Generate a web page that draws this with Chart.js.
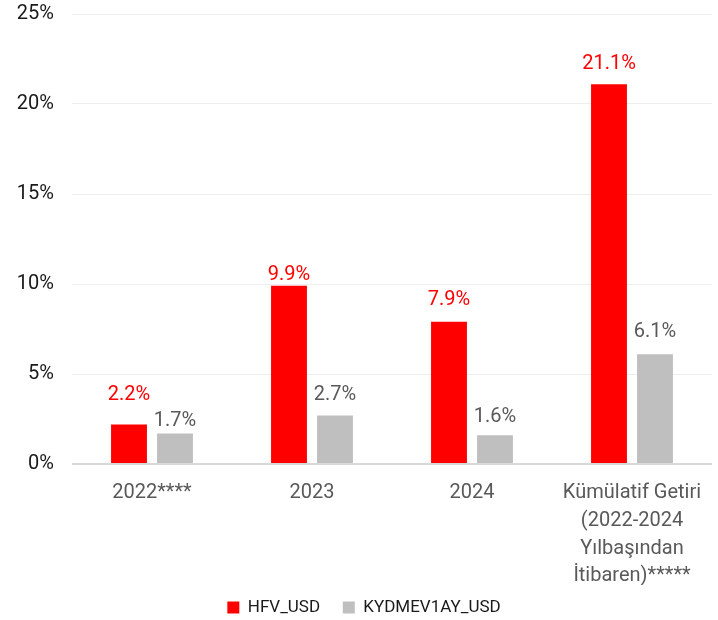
<!DOCTYPE html>
<html>
<head>
<meta charset="utf-8">
<script src="https://cdn.jsdelivr.net/npm/chart.js@4/dist/chart.umd.min.js"></script>
<style>
  html, body { margin: 0; padding: 0; background: #fff; }
  #wrap { width: 718px; height: 620px; }
</style>
</head>
<body>
<div id="wrap"><canvas id="c"></canvas></div>
<script>
const categories = [
  '2022****',
  '2023',
  '2024',
  ['Kümülatif Getiri', '(2022-2024', 'Yılbaşından', 'İtibaren)*****']
];
const hfvUsd = [2.2, 9.9, 7.9, 21.1];
const kydUsd = [1.7, 2.7, 1.6, 6.1];
const yTicks = [0, 5, 10, 15, 20, 25];

// gap between label bottom and bar top, as placed in the original
const labelGaps = [[22, 4, 15, 13], [5, 13, 11, 15]];

const barLabels = {
  id: 'barLabels',
  afterDatasetsDraw(chart) {
    const ctx = chart.ctx;
    ctx.save();
    ctx.font = '20px Roboto';
    ctx.textAlign = 'center';
    ctx.textBaseline = 'bottom';
    chart.data.datasets.forEach((ds, i) => {
      const meta = chart.getDatasetMeta(i);
      ctx.fillStyle = ds.labelColor;
      meta.data.forEach((bar, j) => {
        ctx.fillText(ds.data[j].toFixed(1) + '%', bar.x, bar.y - labelGaps[i][j] + 3);
      });
    });
    ctx.restore();
  }
};

new Chart(document.getElementById('c'), {
  type: 'bar',
  data: {
    labels: categories,
    datasets: [
      { label: 'HFV_USD', data: hfvUsd, backgroundColor: '#ff0000', labelColor: '#ff0000',
        barPercentage: 0.78, categoryPercentage: 0.575 },
      { label: 'KYDMEV1AY_USD', data: kydUsd, backgroundColor: '#bfbfbf', labelColor: '#595959',
        barPercentage: 0.78, categoryPercentage: 0.575 }
    ]
  },
  options: {
    responsive: true,
    maintainAspectRatio: false,
    animation: false,
    layout: { padding: { top: 14, left: 16, right: 6, bottom: 0 } },
    plugins: {
      tooltip: { enabled: false },
      legend: {
        position: 'bottom',
        maxHeight: 35,
        labels: {
          font: { family: 'Roboto', size: 17 },
          color: '#1a1a1a',
          boxWidth: 12,
          boxHeight: 12,
          padding: 14,
          generateLabels(chart) {
            const items = Chart.defaults.plugins.legend.labels.generateLabels(chart);
            items.forEach((it, i) => { if (i < items.length - 1) it.text += '\u2002'; });
            return items;
          }
        }
      }
    },
    scales: {
      x: {
        grid: { display: false },
        border: { display: false },
        ticks: {
          font: { family: 'Roboto', size: 20, lineHeight: 1.39 },
          color: '#595959',
          padding: 7,
          maxRotation: 0,
          autoSkip: false
        },
        afterFit(scale) { scale.height = 121; scale.paddingLeft = 0; scale.paddingRight = 0; }
      },
      y: {
        min: 0,
        max: 25,
        afterBuildTicks(scale) { scale.ticks = yTicks.map(v => ({ value: v })); },
        grid: {
          drawTicks: false,
          color: ctx => ctx.tick && ctx.tick.value === 0 ? '#d9d9d9' : '#eeeeee',
          lineWidth: ctx => ctx.tick && ctx.tick.value === 0 ? 2 : 1
        },
        border: { display: false },
        ticks: {
          font: { family: 'Roboto', size: 20 },
          color: '#1a1a1a',
          padding: 18,
          callback: v => v + '%'
        },
        afterFit(scale) { scale.width = 56; scale.paddingTop = 0; scale.paddingBottom = 0; }
      }
    }
  },
  plugins: [barLabels]
});
</script>
</body>
</html>
